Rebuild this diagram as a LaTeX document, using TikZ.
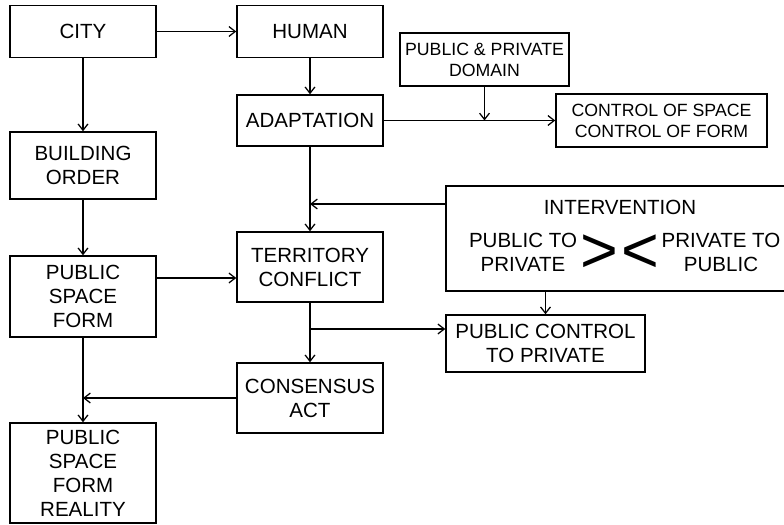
\documentclass[tikz,border=0pt]{standalone}
\usepackage{fontspec}
\setmainfont{Liberation Sans}
\usepackage{tikz}
\usepackage{color}
\usetikzlibrary{arrows.meta}

\tikzset{
  box/.style={draw, line width=1pt, inner sep=0pt, align=center,
    font=\fontsize{14.6}{17}\selectfont, minimum width=3.65cm},
  smallbox/.style={box, font=\fontsize{12.6}{15}\selectfont},
  every path/.style={line width=0.9pt},
  >={Straight Barb[length=4.5pt,width=7pt]}
}

\begin{document}
\begin{tikzpicture}[x=0.025cm,y=-0.025cm]
\useasboundingbox (0,0) rectangle (784,525);
\node[box, minimum height=1.3cm] (city) at (83,31.5) {CITY};
\node[box, minimum height=1.3cm] (human) at (310,31.5) {HUMAN};
\node[box, minimum height=1.275cm] (adapt) at (310,120.5) {ADAPTATION};
\node[box, minimum height=1.675cm] (build) at (83,165.5) {BUILDING\\ORDER};
\node[box, minimum height=2.025cm] (psf) at (83,296.5) {PUBLIC\\SPACE\\FORM};
\node[box, minimum height=1.75cm] (terr) at (310,267) {TERRITORY\\CONFLICT};
\node[box, minimum height=1.75cm] (cons) at (310,398) {CONSENSUS\\ACT};
\node[box, minimum height=2.5cm] (real) at (83,473) {PUBLIC\\SPACE\\FORM\\REALITY};
\node[smallbox, minimum width=4.225cm, minimum height=1.325cm] (domain) at (484.5,59.5) {PUBLIC \& PRIVATE\\DOMAIN};
\node[smallbox, minimum width=5.275cm, minimum height=1.325cm] (ctrl) at (661.5,120.5) {CONTROL OF SPACE\\CONTROL OF FORM};
\node[box, minimum width=8.85cm, minimum height=2.625cm] (interv) at (623,238.5) {};
\node[font=\fontsize{14.6}{17}\selectfont] (ivtitle) at (620,207) {INTERVENTION};
\node[align=center, font=\fontsize{14.6}{17}\selectfont] (pubpriv) at (523,252.5) {PUBLIC TO\\PRIVATE};
\node[align=center, font=\fontsize{14.6}{17}\selectfont] (privpub) at (721,252.5) {PRIVATE TO\\PUBLIC};
\node[inner sep=0pt, font=\fontsize{46}{46}\selectfont] (gtlt) at (620,254) {>\kern2pt<};
\node[box, minimum width=4.975cm, minimum height=1.425cm] (pcon) at (545.5,343.5) {PUBLIC CONTROL\\TO PRIVATE};

\draw[->] (city) -- (human);
\draw[->] (city) -- (build);
\draw[->] (human) -- (adapt);
\draw[->] (adapt) -- (ctrl);
\draw[->] (domain.south) -- (domain.south |- adapt.east);
\draw[->] (adapt) -- (terr);
\draw[->] (interv.west |- 0,204) -- (adapt.south |- 0,204);
\draw[->] (build) -- (psf);
\draw[->] (psf.east |- 0,278) -- (terr.west |- 0,278);
\draw[->] (terr) -- (cons);
\draw[->] (terr.south |- 0,329) -- (pcon.west |- 0,329);
\draw[->] (interv.south -| pcon.north) -- (pcon.north);
\draw[->] (cons.west) -- (cons.west -| psf.south);
\draw[->] (psf) -- (real);
\end{tikzpicture}
\end{document}
